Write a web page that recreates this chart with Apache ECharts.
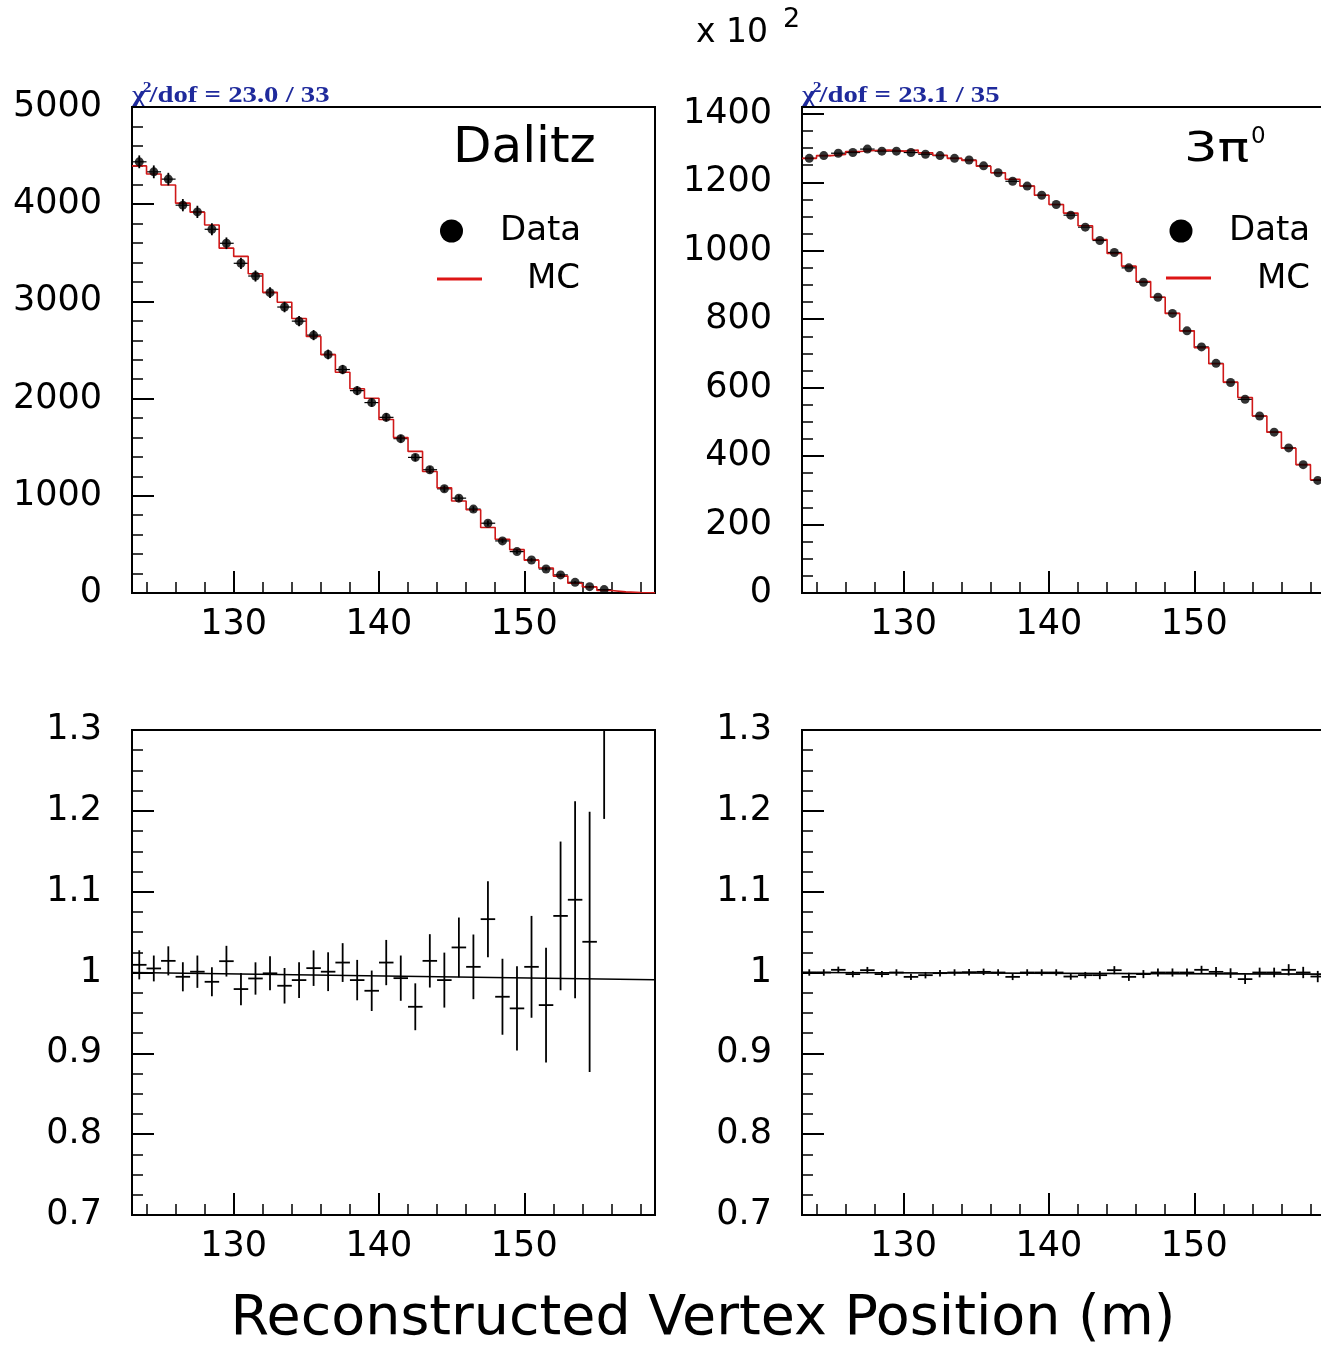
<!DOCTYPE html>
<html><head><meta charset="utf-8">
<script src="https://cdn.jsdelivr.net/npm/echarts@6/dist/echarts.min.js"></script>
<style>html,body{margin:0;padding:0;background:#fff;overflow:hidden}#c{width:1321px;height:1348px}</style>
</head><body><div id="c"></div>
<script>
// ---------- data ----------
const binCenters = [123.5,124.5,125.5,126.5,127.5,128.5,129.5,130.5,131.5,132.5,133.5,134.5,135.5,136.5,137.5,138.5,139.5,140.5,141.5,142.5,143.5,144.5,145.5,146.5,147.5,148.5,149.5,150.5,151.5,152.5,153.5,154.5,155.5,156.5,157.5,158.5];
const xMajorTicks = [130,140,150];
const xMinorTicks = [124,126,128,132,134,136,138,142,144,146,148,152,154,156,158];

const dalitzData = [4436,4333,4258,3990,3921,3742,3598,3392,3261,3090,2942,2797,2653,2454,2299,2082,1959,1807,1588,1395,1268,1072,976,863,718,536,426,340,247,186,110,65,35,null,null,null];
const dalitzErr  = [66,66,65,63,63,61,60,58,57,56,54,53,52,50,48,46,44,43,40,37,36,33,31,29,27,23,21,18,16,14,10,8,6,null,null,null];
const dalitzMC   = [4394,4311,4198,4011,3917,3786,3548,3463,3285,3093,2991,2824,2639,2452,2271,2102,2004,1785,1599,1457,1250,1082,947,857,674,553,446,338,257,174,101,63,25,12,5,2];

const pi3Data = [1270,1278,1285,1287,1297,1291,1291,1287,1282,1278,1270,1265,1248,1228,1203,1189,1162,1135,1104,1069,1030,995,950,908,864,817,766,719,671,615,566,517,470,424,375,329];
const pi3MC   = [1270,1278,1281,1290,1293,1294,1291,1294,1286,1279,1270,1264,1247,1228,1209,1189,1162,1135,1110,1073,1033,992,955,910,864,817,766,717,670,616,571,517,470,423,375,331];

const dalitzRatio    = [1.0095,1.005,1.0144,0.9947,1.001,0.9885,1.014,0.9795,0.9926,0.999,0.9836,0.9906,1.0054,1.001,1.0123,0.9906,0.9774,1.0123,0.993,0.9576,1.0144,0.9906,1.031,1.007,1.066,0.970,0.9556,1.007,0.9597,1.070,1.090,1.038,1.40,null,null,null];
const dalitzRatioErr = [0.018,0.016,0.018,0.018,0.020,0.018,0.019,0.020,0.020,0.021,0.022,0.022,0.022,0.024,0.024,0.025,0.025,0.028,0.028,0.029,0.033,0.034,0.037,0.040,0.047,0.047,0.052,0.063,0.071,0.092,0.122,0.161,0.21,null,null,null];
const pi3Ratio    = [1.000,1.000,1.0033,0.998,1.0029,0.998,1.000,0.9946,0.9967,0.9992,1.000,1.0004,1.0008,1.000,0.9946,1.000,1.000,1.000,0.995,0.9967,0.9967,1.0029,0.9946,0.998,1.000,1.000,1.000,1.0033,1.0008,0.9992,0.9918,1.000,1.000,1.0033,1.000,0.995];
const pi3RatioErr = [0.004,0.004,0.004,0.004,0.004,0.004,0.004,0.004,0.004,0.004,0.004,0.004,0.004,0.004,0.004,0.004,0.004,0.004,0.004,0.004,0.005,0.005,0.005,0.005,0.005,0.005,0.005,0.005,0.006,0.006,0.006,0.006,0.006,0.007,0.007,0.007];

const dalitzRefLine = [[123,1.0],[159,0.991]];
const pi3RefLine    = [[123,1.0],[159,0.998]];

const xMin = 123, xMax = 159, binHalf = 0.5;

// ---------- helpers ----------
const FONT = 'DejaVu Sans';
function triples(vals, errs){ const out=[]; binCenters.forEach((c,i)=>{ if(vals[i]!=null) out.push([c, vals[i], errs ? (errs[i]||0) : 0]); }); return out; }
function stepEdges(vals){ const out = binCenters.map((c,i)=>[c-binHalf, vals[i]]); out.push([binCenters[binCenters.length-1]+binHalf, vals[vals.length-1]]); return out; }
function crossItem(drawH, drawV, hw, vw){
  return function(params, api){
    const x=api.value(0), y=api.value(1), e=api.value(2);
    const cs=params.coordSys, top=cs.y, bot=cs.y+cs.height;
    const cl=v=>Math.max(top,Math.min(bot,v));
    const l=api.coord([x-binHalf,y]), r=api.coord([x+binHalf,y]);
    const t=api.coord([x,y+e]), b=api.coord([x,y-e]);
    const ch=[];
    if(drawV && e>0){ const y1=cl(t[1]), y2=cl(b[1]); if(y2>y1) ch.push({type:'line',shape:{x1:t[0],y1:y1,x2:b[0],y2:y2},style:{stroke:'#000',lineWidth:vw}}); }
    if(drawH && l[1]>=top && l[1]<=bot) ch.push({type:'line',shape:{x1:l[0],y1:l[1],x2:r[0],y2:r[1]},style:{stroke:'#000',lineWidth:hw}});
    return {type:'group',children:ch};
  };
}
const grids = [
  {left:132, top:107, width:523, height:486},
  {left:802, top:107, width:523, height:486},
  {left:132, top:730, width:523, height:485},
  {left:802, top:730, width:523, height:485}
].map(g=>Object.assign(g,{show:true,borderColor:'#000',borderWidth:2,backgroundColor:'transparent',containLabel:false,outerBoundsMode:'none'}));

const xAxes = [];
for(let i=0;i<4;i++){
  xAxes.push({type:'value',gridIndex:i,min:xMin,max:xMax,position:'bottom',
    axisLine:{show:true,onZero:false,lineStyle:{color:'#000',width:2}},
    axisTick:{show:true,inside:true,length:22,customValues:xMajorTicks,lineStyle:{color:'#000',width:2}},
    axisLabel:{show:true,customValues:xMajorTicks,fontFamily:FONT,fontSize:35,color:'#000',margin:14,formatter:v=>String(v)},
    splitLine:{show:false}});
}
for(let i=0;i<4;i++){
  xAxes.push({type:'value',gridIndex:i,min:xMin,max:xMax,position:'bottom',offset:0,
    axisLine:{show:false,onZero:false},
    axisTick:{show:true,inside:true,length:11,customValues:xMinorTicks,lineStyle:{color:'#000',width:1.5}},
    axisLabel:{show:false},splitLine:{show:false}});
}
function yAx(i,min,max,interval,minorSplit,fmt){
  return {type:'value',gridIndex:i,min:min,max:max,interval:interval,position:'left',
    axisLine:{show:true,onZero:false,lineStyle:{color:'#000',width:2}},
    axisTick:{show:true,inside:true,length:22,lineStyle:{color:'#000',width:2}},
    minorTick:{show:true,splitNumber:minorSplit,length:11,lineStyle:{color:'#000',width:1.5}},
    axisLabel:{show:true,fontFamily:FONT,fontSize:35,color:'#000',margin:30,padding:[6,0,0,0],formatter:fmt},
    splitLine:{show:false},minorSplitLine:{show:false}};
}
const plainFmt = v => String(+v.toFixed(6));
const yAxes = [
  yAx(0,0,5000,1000,5,plainFmt),
  yAx(1,0,1420,200,4,v=>(Math.abs(v%200)<1e-6?String(v):'')),
  yAx(2,0.7,1.3,0.1,4,plainFmt),
  yAx(3,0.7,1.3,0.1,4,plainFmt)
];

function histSeries(ax, data, err, mc){
  return [
    {type:'custom',xAxisIndex:ax,yAxisIndex:ax,z:2,renderItem:crossItem(true,false,1.2,0),data:triples(data,err),silent:true},
    {type:'line',xAxisIndex:ax,yAxisIndex:ax,z:3,step:'end',showSymbol:false,symbol:'none',data:stepEdges(mc),lineStyle:{color:'#d01818',width:1.6},silent:true},
    {type:'custom',xAxisIndex:ax,yAxisIndex:ax,z:4,renderItem:crossItem(false,true,0,1.8),data:triples(data,err),silent:true},
    {type:'scatter',xAxisIndex:ax,yAxisIndex:ax,z:5,symbol:'circle',symbolSize:9,itemStyle:{color:'#000'},data:triples(data,err).map(d=>[d[0],d[1]]),silent:true}
  ];
}
function ratioSeries(ax, vals, errs, ref){
  return [
    {type:'line',xAxisIndex:ax,yAxisIndex:ax,z:2,showSymbol:false,symbol:'none',data:ref,lineStyle:{color:'#000',width:1.6},silent:true},
    {type:'custom',xAxisIndex:ax,yAxisIndex:ax,z:3,renderItem:crossItem(true,true,1.8,1.8),data:triples(vals,errs),silent:true}
  ];
}

// ---------- graphics (texts / legend) ----------
function txt(x,y,text,size,opts,extra){
  return Object.assign({type:'text',x:x,y:y,silent:true,style:Object.assign({text:text,fontFamily:FONT,fontSize:size,fill:'#000',align:'left',verticalAlign:'middle',textAlign:'left',textVerticalAlign:'middle'},opts||{})},extra||{});
}
function chi2(x,y,rest){
  return {type:'group',x:x,y:y,scaleX:1.25,silent:true,children:[
    {type:'text',x:0,y:0,style:{text:'\u03c7',fontFamily:'Liberation Serif',fontWeight:'bold',fontSize:23,fill:'#1f2a9c',align:'left',verticalAlign:'middle'}},
    {type:'text',x:8.5,y:-8,style:{text:'2',fontFamily:'Liberation Serif',fontWeight:'bold',fontSize:14,fill:'#1f2a9c',align:'left',verticalAlign:'middle'}},
    {type:'text',x:14,y:0,style:{text:rest,fontFamily:'Liberation Serif',fontWeight:'bold',fontSize:23,fill:'#1f2a9c',align:'left',verticalAlign:'middle'}}
  ]};
}
const graphics = [
  txt(696,33,'x 10',33),
  txt(783,20,'2',27),
  chi2(132,96,'/dof = 23.0 / 33'),
  chi2(802,96,'/dof = 23.1 / 35'),
  txt(453,149,'Dalitz',50),
  txt(1184,151,'3\u03c0',40,null,{scaleX:1.32}),
  txt(1251,137,'0',23),
  {type:'circle',silent:true,shape:{cx:451.5,cy:231,r:11.5},style:{fill:'#000'}},
  txt(500,231,'Data',34),
  {type:'line',silent:true,shape:{x1:437,y1:279,x2:482,y2:279},style:{stroke:'#dd1515',lineWidth:3}},
  txt(527,279,'MC',34),
  {type:'circle',silent:true,shape:{cx:1181,cy:231,r:11.5},style:{fill:'#000'}},
  txt(1229,231,'Data',34),
  {type:'line',silent:true,shape:{x1:1166,y1:278,x2:1211,y2:278},style:{stroke:'#dd1515',lineWidth:3}},
  txt(1257,279,'MC',34),
  txt(703,1320,'Reconstructed Vertex Position (m)',55.5,{align:'center',textAlign:'center'})
];

const chart = echarts.init(document.getElementById('c'), null, {renderer:'canvas'});
chart.setOption({
  backgroundColor:'#fff',
  animation:false,
  grid:grids,
  xAxis:xAxes,
  yAxis:yAxes,
  series:[].concat(
    histSeries(0,dalitzData,dalitzErr,dalitzMC),
    histSeries(1,pi3Data,null,pi3MC),
    ratioSeries(2,dalitzRatio,dalitzRatioErr,dalitzRefLine),
    ratioSeries(3,pi3Ratio,pi3RatioErr,pi3RefLine)
  ),
  graphic:{elements:graphics}
});
</script></body></html>
